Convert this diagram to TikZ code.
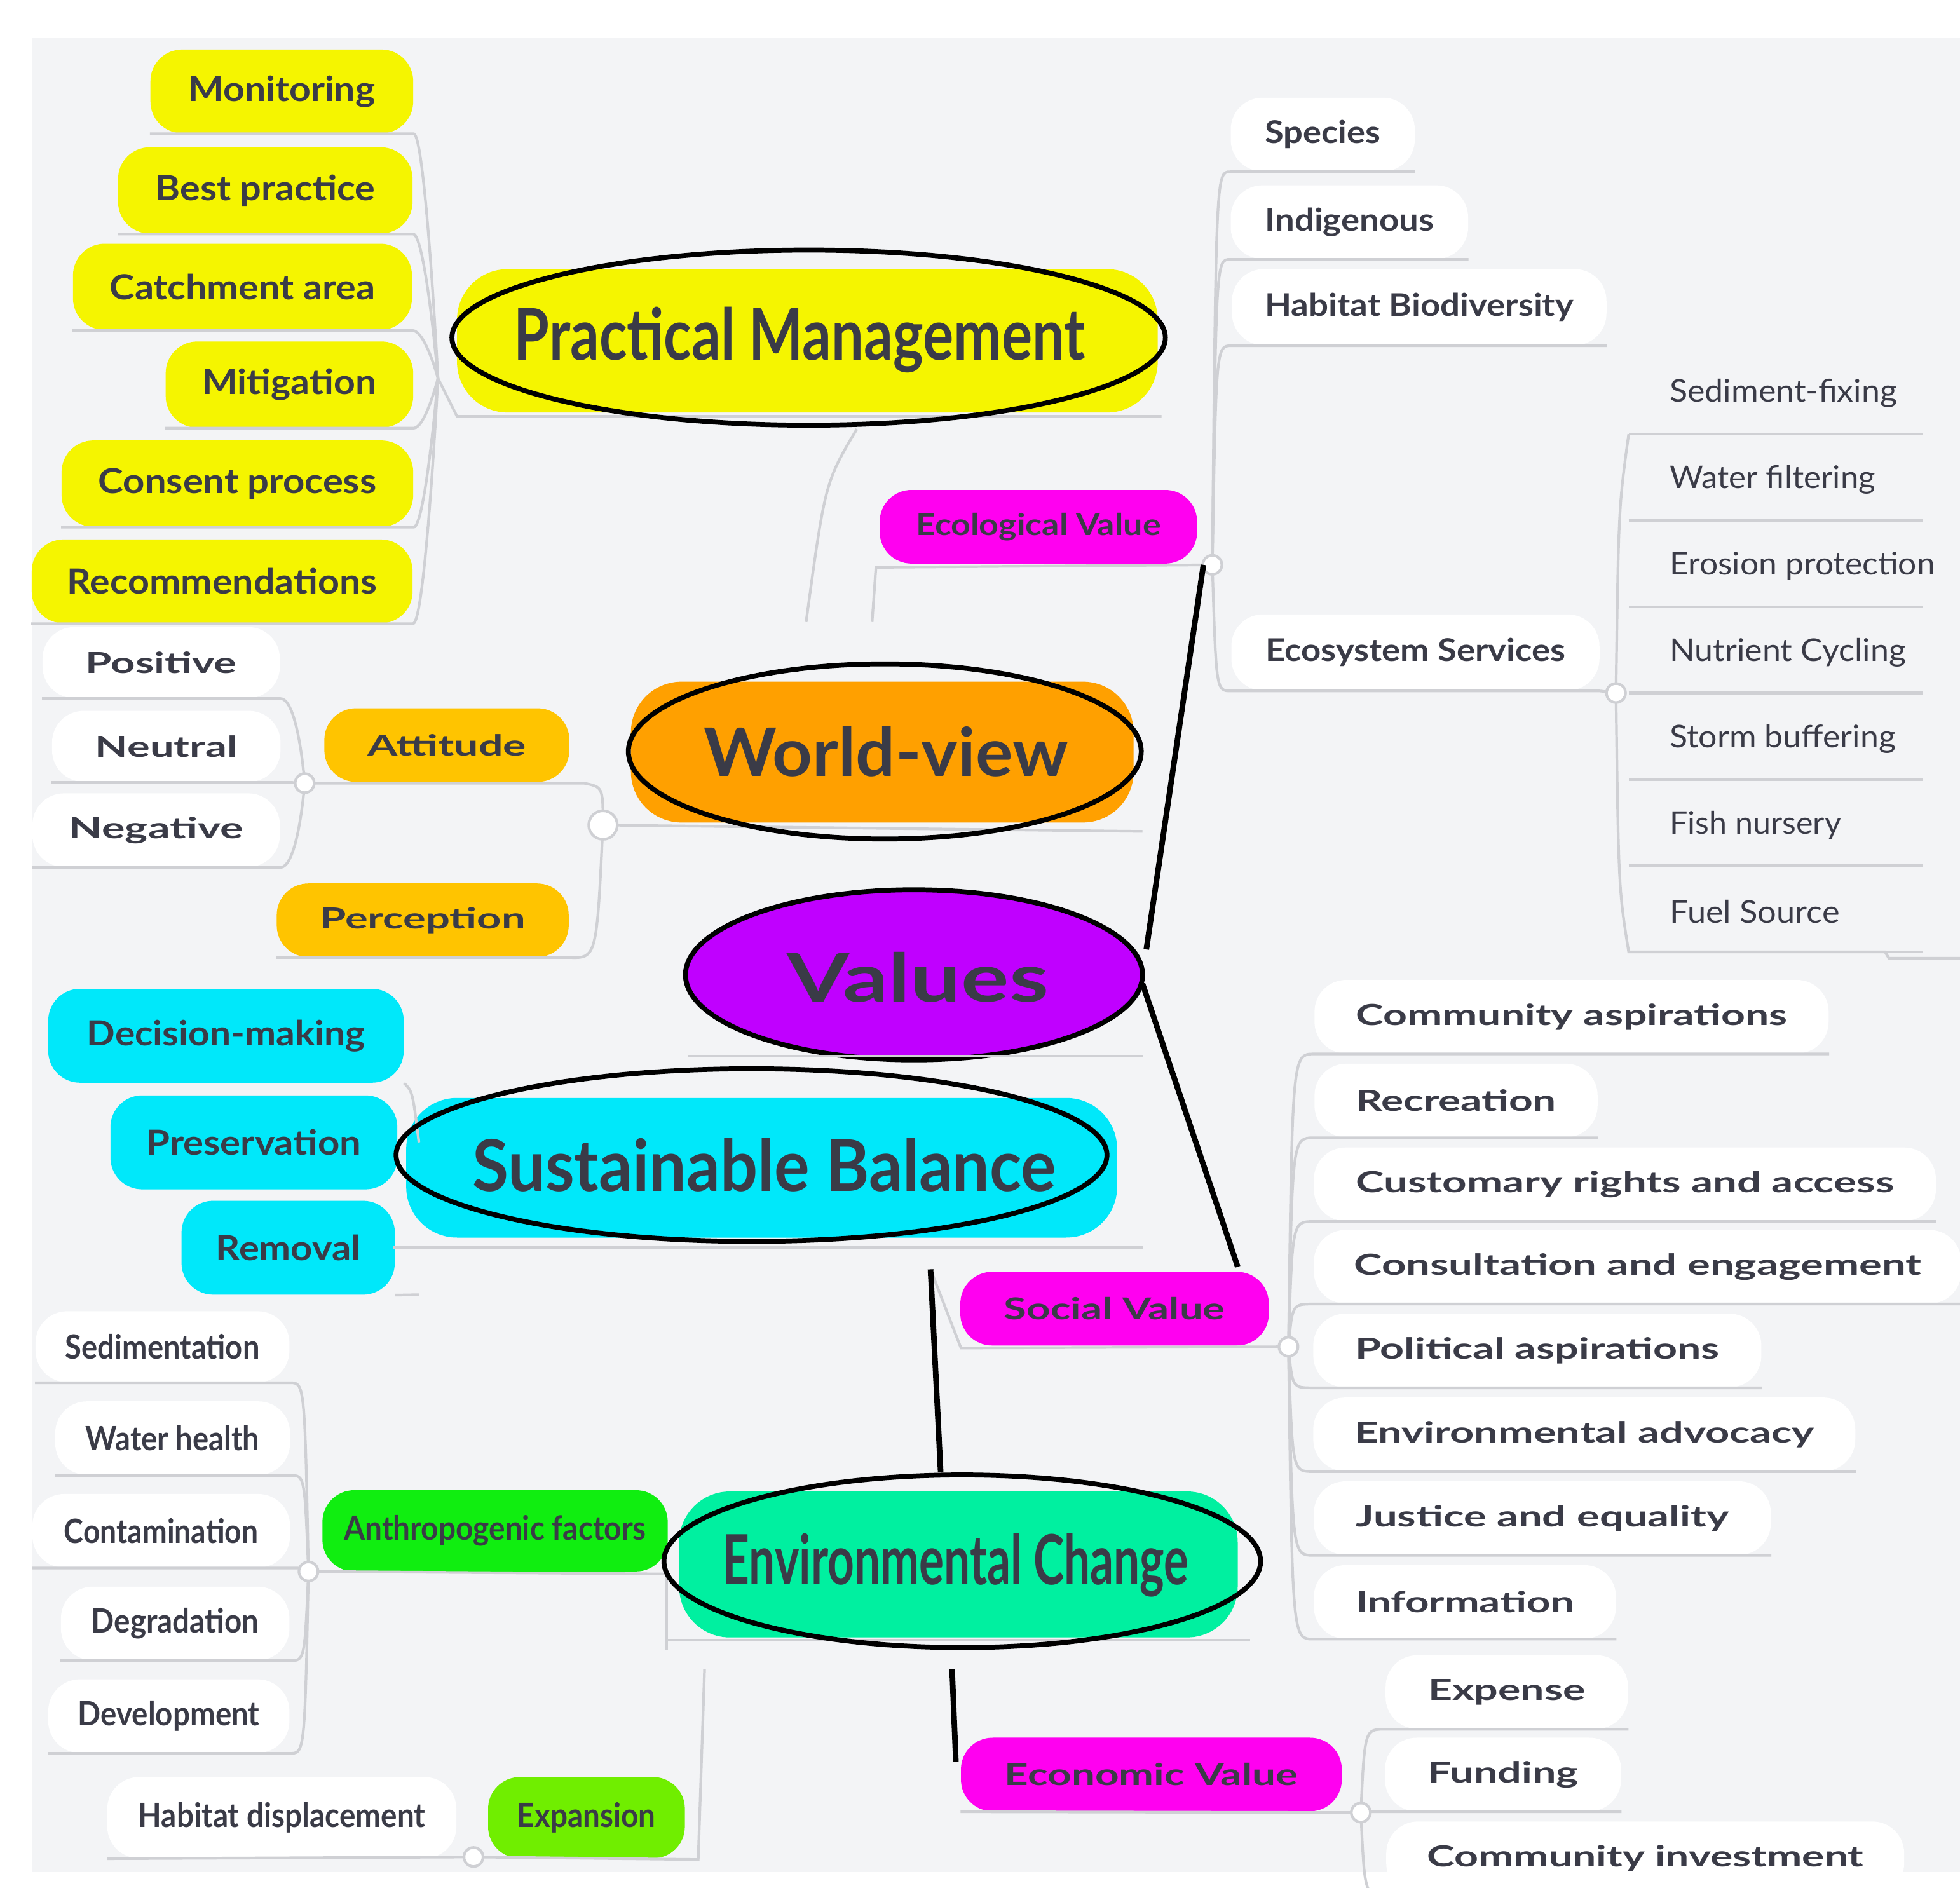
\documentclass[tikz,border=0pt]{standalone}
\usetikzlibrary{shapes.geometric}
\usepackage{fontspec}
\setmainfont{Lato}
\usepackage{graphicx}
\definecolor{bg}{HTML}{F3F4F6}
\definecolor{txt}{HTML}{3A3B47}
\definecolor{con}{HTML}{CFD0D4}
\definecolor{yel}{HTML}{F5F500}
\definecolor{ora}{HTML}{FFC400}
\definecolor{wor}{HTML}{FFA000}
\definecolor{pur}{HTML}{C000FF}
\definecolor{cya}{HTML}{00E8FA}
\definecolor{mag}{HTML}{FF00F0}
\definecolor{emg}{HTML}{00F0A0}
\definecolor{grn}{HTML}{10EE10}
\definecolor{lim}{HTML}{70EE00}
\def\fs{15.5}
\newcommand\lbl[2]{\resizebox{\dimexpr0.02cm*#1\relax}{\height}{\fontsize{\fs pt}{\fs pt}\selectfont #2}}
% name cx cy w h fill textw text
\newcommand\pn[8]{\node[pill,fill=#6,minimum width=#4*0.02cm,minimum height=#5*0.02cm] (#1) at (#2,#3) {\lbl{#7}{\bfseries #8}};}
\newcommand\rt[4]{\node[anchor=west,inner sep=0pt,text=txt] (#1) at (1315,#2) {\lbl{#3}{#4}};
\draw[conl] (1283,#2+32) -- (1515,#2+32);}
\begin{document}
\begin{tikzpicture}[x=0.02cm,y=-0.02cm,
 pill/.style={rounded corners=0.5cm,inner sep=0pt,text=txt},
 conl/.style={draw=con,line width=1.2pt},
 cir/.style={circle,draw=con,fill=white,line width=1.2pt,inner sep=0pt,minimum size=0.3cm},
 big/.style={draw=black,line width=2.2pt}]
\useasboundingbox (0,0) rectangle (1544,1487);
\fill[white] (0,0) rectangle (1544,1487);
\fill[bg] (25,30) rectangle (1544,1475);
% ---- yellow group
\def\fs{15.5}
\pn{mon}{222}{72}{207}{66}{yel}{147}{Monitoring}
\pn{bp}{209}{150}{232}{68}{yel}{173}{Best practice}
\pn{ca}{191}{226}{267}{68}{yel}{209}{Catchment area}
\pn{mit}{228}{303}{195}{68}{yel}{137}{Mitigation}
\pn{cp}{187}{381}{277}{68}{yel}{219}{Consent process}
\pn{rec}{175}{458}{300}{66}{yel}{244}{Recommendations}
\coordinate (yc) at (345,298);
\foreach \n in {mon,bp,ca,mit,cp,rec}{\draw[conl] (\n.south west) -- (\n.south east) .. controls (335,0|-\n.south east) and (345,298) .. (yc);}
\fill[yel,rounded corners=0.8cm] (360,212) rectangle (912,325);
\draw[conl] (yc) -- (360,328) -- (915,328);
\node[big,ellipse,minimum width=562*0.02cm,minimum height=138*0.02cm,inner sep=0pt] (pm) at (637,266) {};
\def\fs{32}
\node[text=txt] at (630,268) {\lbl{450}{\bfseries Practical Management}};
\draw[conl] (675,338) .. controls (650,380) .. (635,490);
% ---- world view
\def\fs{13}
\pn{pos}{127}{522}{187}{56}{white}{119}{Positive}
\pn{neu}{131}{588}{180}{56}{white}{112}{Neutral}
\pn{neg}{123}{654}{195}{58}{white}{137}{Negative}
\coordinate (ac) at (240,617);
\foreach \n in {pos,neu,neg}{\draw[conl] (\n.south west) -- (\n.south east) .. controls (235,0|-\n.south east) and (240,617) .. (ac);}
\pn{att}{352}{587}{193}{58}{ora}{125}{Attitude}
\pn{per}{333}{725}{230}{58}{ora}{162}{Perception}
\coordinate (wc) at (475,650);
\draw[conl] (ac) -- (460,617) .. controls (475,620) .. (wc);
\draw[conl] (per.south west) -- (per.south east) .. controls (470,755) .. (wc);
\fill[wor,rounded corners=0.8cm] (497,537) rectangle (893,648);
\draw[conl] (wc) -- (900,655);
\node[cir] at (ac) {};\node[cir,minimum size=0.45cm] at (wc) {};
\node[big,ellipse,minimum width=404*0.02cm,minimum height=138*0.02cm,inner sep=0pt] (wv) at (697,592) {};
\def\fs{30}
\node[text=txt] at (698,592) {\lbl{287}{\bfseries World-view}};
% ---- values
\node[big,ellipse,fill=pur,minimum width=360*0.02cm,minimum height=134*0.02cm,inner sep=0pt] (val) at (720,768) {};
\node[text=txt] at (723,770) {\lbl{206}{\bfseries Values}};
\draw[conl] (542,832) -- (900,832);
% ---- sustainable
\def\fs{15.5}
\pn{dm}{178}{816}{280}{74}{cya}{219}{Decision-making}
\pn{pre}{200}{900}{226}{74}{cya}{169}{Preservation}
\pn{rem}{227}{983}{168}{74}{cya}{114}{Removal}
\fill[cya,rounded corners=0.8cm] (320,865) rectangle (880,975);
\draw[conl] (dm.south east) .. controls (325,860) .. (330,900);
\draw[conl] (rem.south east) -- (330,1020);
\draw[conl] (310,983) -- (900,983);
\node[big,ellipse,minimum width=560*0.02cm,minimum height=136*0.02cm,inner sep=0pt] (sb) at (592,910) {};
\def\fs{32}
\node[text=txt] at (602,918) {\lbl{460}{\bfseries Sustainable Balance}};
% ---- ecological
\def\fs{13.5}
\pn{eco}{818}{415}{250}{58}{mag}{193}{Ecological Value}
\coordinate (ec) at (955,445);
\draw[conl] (687,490) -- (690,447) -- (ec);
\def\fs{14}
\pn{spe}{1042}{106}{145}{58}{white}{91}{Species}
\pn{ind}{1063}{175}{187}{58}{white}{133}{Indigenous}
\pn{hab}{1118}{242}{295}{60}{white}{243}{Habitat Biodiversity}
\pn{es}{1115}{514}{290}{60}{white}{236}{Ecosystem Services}
\foreach \n in {spe,ind,hab,es}{\draw[conl] (ec) .. controls (958,0|-\n.south west) .. (\n.south west) -- (\n.south east);}
\coordinate (esc) at (1273,546);
\draw[conl] (es.south east) -- (esc);
\rt{s1}{310}{179}{Sediment-fixing}
\rt{s2}{378}{162}{Water filtering}
\rt{s3}{446}{209}{Erosion protection}
\rt{s4}{514}{186}{Nutrient Cycling}
\rt{s5}{582}{178}{Storm buffering}
\rt{s6}{650}{135}{Fish nursery}
\rt{s7}{718}{134}{Fuel Source}
\draw[conl] (esc) .. controls (1275,400) .. (1283,342);
\draw[conl] (esc) .. controls (1275,700) .. (1283,750) -- (1485,750) -- (1488,755) -- (1544,755);
\node[cir] at (esc) {};\node[cir] at (ec) {};
% ---- social
\def\fs{13.5}
\pn{soc}{878}{1031}{243}{58}{mag}{174}{Social Value}
\coordinate (scc) at (1015,1061);
\draw[conl] (733,1000) -- (757,1062) -- (scc);
\def\fs{13}
\pn{c1}{1238}{801}{405}{58}{white}{340}{Community aspirations}
\pn{c2}{1147}{867}{223}{58}{white}{158}{Recreation}
\pn{c3}{1280}{933}{490}{58}{white}{424}{Customary rights and access}
\pn{c4}{1290}{998}{510}{58}{white}{447}{Consultation and engagement}
\pn{c5}{1211}{1064}{353}{58}{white}{287}{Political aspirations}
\pn{c6}{1248}{1130}{427}{58}{white}{362}{Environmental advocacy}
\pn{c7}{1215}{1196}{360}{58}{white}{294}{Justice and equality}
\pn{c8}{1154}{1262}{238}{58}{white}{172}{Information}
\foreach \n in {c1,c2,c3,c4,c5,c6,c7,c8}{\draw[conl] (scc) .. controls (1018,0|-\n.south west) .. (\n.south west) -- (\n.south east);}
\node[cir] at (scc) {};
% ---- environmental change
\def\fs{15}
\pn{sed}{128}{1061}{200}{56}{white}{153}{Sedimentation}
\pn{wh}{136}{1133}{185}{58}{white}{137}{Water health}
\pn{con}{127}{1206}{203}{58}{white}{153}{Contamination}
\pn{deg}{138}{1279}{180}{58}{white}{132}{Degradation}
\pn{dev}{133}{1352}{190}{58}{white}{143}{Development}
\coordinate (anc) at (243,1238);
\foreach \n in {sed,wh,con,deg,dev}{\draw[conl] (\n.south west) -- (\n.south east) .. controls (240,0|-\n.south east) .. (anc);}
\pn{ant}{390}{1206}{272}{64}{grn}{238}{Anthropogenic factors}
\draw[conl] (anc) -- (525,1240) -- (525,1300);
\fill[emg,rounded corners=0.8cm] (535,1175) rectangle (975,1290);
\draw[conl] (525,1292) -- (985,1292);
\node[big,ellipse,minimum width=470*0.02cm,minimum height=136*0.02cm,inner sep=0pt] (ec2) at (758,1230) {};
\def\fs{31}
\node[text=txt] at (753,1233) {\lbl{367}{\bfseries Environmental Change}};
\node[cir] at (anc) {};
\def\fs{15}
\pn{hd}{222}{1432}{275}{64}{white}{226}{Habitat displacement}
\pn{exp}{462}{1432}{155}{64}{lim}{109}{Expansion}
\coordinate (exc) at (373,1463);
\draw[conl] (hd.south west) -- (exc) -- (550,1465) -- (555,1315);
\node[cir] at (exc) {};
% ---- economic
\def\fs{13.5}
\pn{ecv}{907}{1398}{300}{58}{mag}{231}{Economic Value}
\coordinate (ecc) at (1072,1428);
\draw[conl] (ecv.south west) -- (ecc);
\def\fs{13}
\pn{e1}{1187}{1333}{191}{58}{white}{124}{Expense}
\pn{e2}{1184}{1398}{186}{58}{white}{119}{Funding}
\pn{e3}{1296}{1464}{408}{58}{white}{344}{Community investment}
\foreach \n in {e1,e2,e3}{\draw[conl] (ecc) .. controls (1075,0|-\n.south west) .. (\n.south west) -- (\n.south east);}
\node[cir] at (ecc) {};
% ---- black trunk lines
\draw[line width=2.5pt] (948,445) -- (903,748);
\draw[line width=2.5pt] (900,775) -- (975,998);
\draw[line width=2.5pt] (733,1000) -- (741,1160);
\draw[line width=2.5pt] (750,1315) -- (753,1388);
\end{tikzpicture}
\end{document}
